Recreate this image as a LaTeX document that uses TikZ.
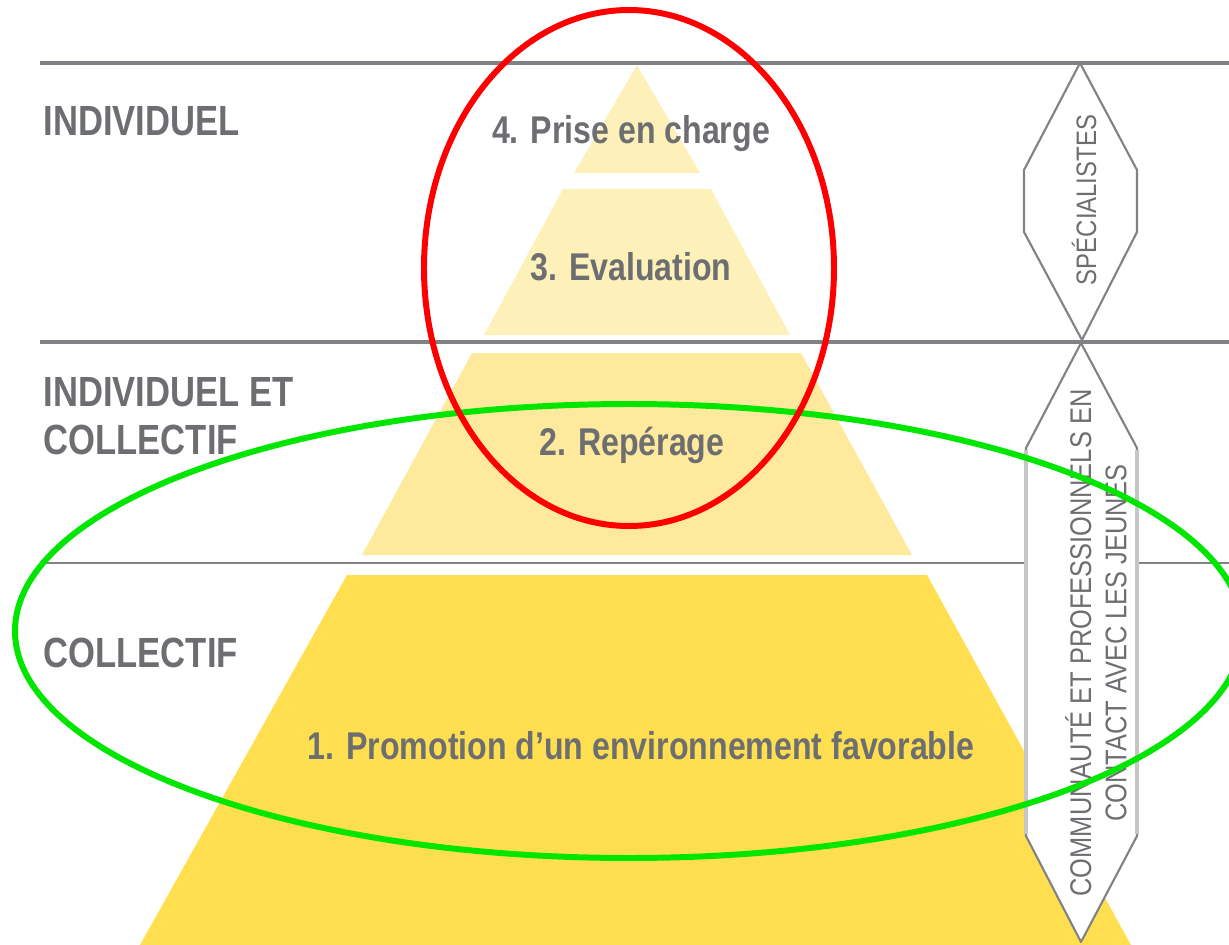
\documentclass[tikz,border=0pt]{standalone}
\usepackage{fontspec}
\usetikzlibrary{positioning}
\newfontfamily\tierfont[FakeStretch=0.82]{Liberation Sans}
\newfontfamily\levelfont[FakeStretch=0.83]{Liberation Sans}
\newfontfamily\hexfont[FakeStretch=0.85]{Liberation Sans}
\definecolor{txtgray}{HTML}{6D6E71}
\definecolor{rulegray}{HTML}{808285}
\definecolor{palelvl}{HTML}{FDF0B8}
\definecolor{midlvl}{HTML}{FEE99C}
\definecolor{baselvl}{HTML}{FFDF4F}
\definecolor{ringred}{HTML}{FF0000}
\definecolor{ringgreen}{HTML}{00E600}
\tikzstyle{tier}=[font=\tierfont\bfseries\fontsize{12}{13.6}\selectfont, text=txtgray, inner sep=0pt, align=left]
\tikzstyle{lvl}=[font=\levelfont\bfseries\fontsize{11}{13}\selectfont, text=txtgray, inner sep=0pt]
\tikzstyle{hextext}=[font=\hexfont\fontsize{8.5}{10}\selectfont, text=txtgray, inner sep=0pt, rotate=90, align=center]
\tikzstyle{rule}=[draw=rulegray, line width=1.4pt]
\tikzstyle{hex}=[draw=rulegray, fill=white, line width=0.6pt, line join=round]
\tikzstyle{hexside}=[draw=gray!45, line width=1.1pt]
\tikzstyle{ring}=[line width=1.7pt]

\begin{document}
\begin{tikzpicture}[x=0.01cm, y=-0.01cm]
	\useasboundingbox (0,0) rectangle (1229,945);
	\fill[palelvl] (637,65) -- (700,173) -- (574,173) -- cycle;
	\fill[palelvl] (563,189) -- (711,189) -- (790,335) -- (484,335) -- cycle;
	\fill[midlvl] (472,353) -- (801,353) -- (912,555) -- (362,555) -- cycle;
	\fill[baselvl] (347,575) -- (927,575) -- (1131,945) -- (140,945) -- cycle;
	\coordinate (r1a) at (40,63);
	\coordinate (r1b) at (1229,63);
	\coordinate (r2a) at (40,342);
	\coordinate (r2b) at (1229,342);
	\coordinate (r3a) at (40,563);
	\coordinate (r3b) at (1229,563);
	\draw[rule] (r1a) -- (r1b);
	\draw[rule] (r2a) -- (r2b);
	\draw[rule, line width=0.8pt] (r3a) -- (r3b);
	\draw[hex] (1080,63) -- (1137,170) -- (1137,232) -- (1082,340) -- (1024,232) -- (1024,170) -- cycle;
	\draw[hex] (1081,343) -- (1137,448) -- (1137,836) -- (1081,942) -- (1026,836) -- (1026,448) -- cycle;
	\draw[hexside] (1026,450) -- (1026,834);
	\draw[hexside] (1137,450) -- (1137,834);
	\node[tier, anchor=base west] (ind) at (43,135) {INDIVIDUEL};
	\node[tier, anchor=north west] (indcol) at (43,377) {INDIVIDUEL ET\\COLLECTIF};
	\node[tier, anchor=base west] (col) at (43,667) {COLLECTIF};
	\node[lvl, anchor=base] (l4) at (631,143) {4. Prise en charge};
	\node[lvl, anchor=base] (l3) at (631,280) {3. Evaluation};
	\node[lvl, anchor=base] (l2) at (632,455) {2. Repérage};
	\node[lvl, anchor=base] (l1) at (641,759) {1. Promotion d’un environnement favorable};
	\node[hextext, font=\hexfont\fontsize{8}{10}\selectfont] (spec) at (1084,200) {SPÉCIALISTES};
	\node[hextext] (comm) at (1096,643) {COMMUNAUTÉ ET PROFESSIONNELS EN\\CONTACT AVEC LES JEUNES};
	\draw[ring, ringgreen] (629,631) ellipse [x radius=614, y radius=227];
	\draw[ring, ringred] (629,268) ellipse [x radius=205, y radius=258];
\end{tikzpicture}
\end{document}
